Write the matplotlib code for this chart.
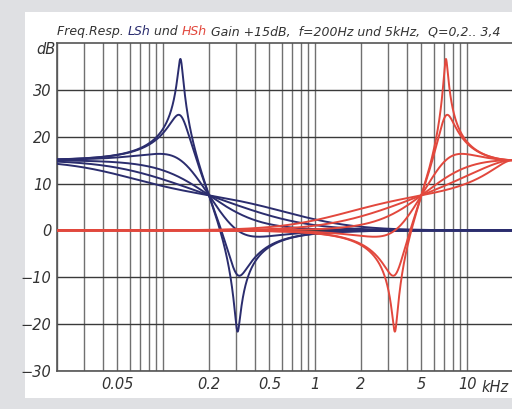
import numpy as np
import matplotlib
matplotlib.use("Agg")
import matplotlib.pyplot as plt
from matplotlib.patches import Rectangle
from matplotlib.ticker import LogLocator, FixedLocator, NullFormatter

# ---- data (filter parameters) ----
gain_db = 15.0
f_lowshelf_khz = 0.2
f_highshelf_khz = 5.0
sample_rate_khz = 40.0
# effective Q of the six curves in each family (fitted to the picture)
q_values = [0.28, 0.41, 0.60, 1.10, 3.6, 14.6]
x_ticks = [0.05, 0.2, 0.5, 1, 2, 5, 10]
x_tick_labels = ["0.05", "0.2", "0.5", "1", "2", "5", "10"]
y_ticks = [-30, -20, -10, 0, 10, 20, 30]
y_tick_labels = ["\u221230", "\u221220", "\u221210", "0", "10", "20", "30"]

BLUE = "#2b2d6e"
RED = "#e2483d"
TXT = "#333333"


def shelf_db(f, f0, g_db, q, fs, kind):
    A = 10 ** (g_db / 40.0)
    w0 = 2 * np.pi * f0 / fs
    c, al = np.cos(w0), np.sin(w0) / (2 * q)
    r = 2 * np.sqrt(A) * al
    if kind == "low":
        b = [A * ((A + 1) - (A - 1) * c + r), 2 * A * ((A - 1) - (A + 1) * c),
             A * ((A + 1) - (A - 1) * c - r)]
        a = [(A + 1) + (A - 1) * c + r, -2 * ((A - 1) + (A + 1) * c),
             (A + 1) + (A - 1) * c - r]
    else:
        b = [A * ((A + 1) + (A - 1) * c + r), -2 * A * ((A - 1) + (A + 1) * c),
             A * ((A + 1) + (A - 1) * c - r)]
        a = [(A + 1) - (A - 1) * c + r, 2 * ((A - 1) - (A + 1) * c),
             (A + 1) - (A - 1) * c - r]
    zi = np.exp(-1j * 2 * np.pi * f / fs)
    h = (b[0] + b[1] * zi + b[2] * zi**2) / (a[0] + a[1] * zi + a[2] * zi**2)
    return 20 * np.log10(np.abs(h))


W, H = 512, 409
fig = plt.figure(figsize=(W / 100, H / 100), dpi=100)
fig.patch.set_facecolor("#dfe0e3")
fig.patches.append(Rectangle((25 / W, (H - 398) / H), 1 - 25 / W, (398 - 12) / H,
                             transform=fig.transFigure, facecolor="white",
                             edgecolor="none", zorder=-10))

left, right, top, bottom = 57, 513, 43, 371
ax = fig.add_axes([left / W, (H - bottom) / H, (right - left) / W, (bottom - top) / H])
ax.set_zorder(5)
ax.set_facecolor("white")
ax.set_xscale("log")
ax.set_xlim(0.02, 20)
ax.set_ylim(-30, 40)

freq = np.logspace(np.log10(0.02), np.log10(20), 6000)
for q in q_values:
    ax.plot(freq, shelf_db(freq, f_lowshelf_khz, gain_db, q, sample_rate_khz, "low"),
            color=BLUE, lw=1.4, zorder=3)
for q in q_values:
    ax.plot(freq, shelf_db(freq, f_highshelf_khz, gain_db, q, sample_rate_khz, "high"),
            color=RED, lw=1.4, zorder=4)

# grid
ax.xaxis.set_major_locator(FixedLocator(x_ticks))
ax.xaxis.set_minor_locator(LogLocator(base=10, subs=np.arange(1, 10), numticks=20))
ax.xaxis.set_minor_formatter(NullFormatter())
ax.set_xticklabels(x_tick_labels)
ax.set_yticks(y_ticks)
ax.set_yticklabels(y_tick_labels)
ax.set_axisbelow(True)
ax.grid(True, which="minor", axis="x", color="#707070", lw=1.0)
ax.grid(True, which="major", axis="x", color="#707070", lw=1.0)
ax.grid(True, which="major", axis="y", color="#3a3a3a", lw=1.0)
ax.tick_params(which="both", length=0)
ax.tick_params(axis="x", pad=4, labelsize=10.5, labelcolor=TXT)
ax.tick_params(axis="y", pad=4, labelsize=10.5, labelcolor=TXT)
for lab in ax.get_xticklabels() + ax.get_yticklabels():
    lab.set_fontstyle("italic")
for sp in ax.spines.values():
    sp.set_color("#555555")
    sp.set_linewidth(1.2)

ax.text(-0.004, 38.6, "dB", transform=ax.get_yaxis_transform(), ha="right", va="center",
        fontsize=10.5, style="italic", color=TXT)
ax.text(12.4, -32.0, "kHz", ha="left", va="top", fontsize=10.5, style="italic", color=TXT,
        clip_on=False)

# title made of coloured pieces
fs_title = 9.0
pieces = [("Freq.Resp. ", TXT), ("LSh", BLUE), (" und ", TXT), ("HSh", RED),
          (" Gain +15dB,  f=200Hz und 5kHz,  Q=0,2.. 3,4", TXT)]
prev = ax.text(0.0, 41.0, pieces[0][0], color=pieces[0][1], fontsize=fs_title,
               style="italic", ha="left", va="bottom", transform=ax.get_yaxis_transform(),
               clip_on=False)
for txt, col in pieces[1:]:
    prev = ax.annotate(txt, xycoords=prev, xy=(1, 0), va="bottom", ha="left",
                       color=col, fontsize=fs_title, style="italic", annotation_clip=False)

fig.savefig("out.png", dpi=100, facecolor=fig.get_facecolor())
